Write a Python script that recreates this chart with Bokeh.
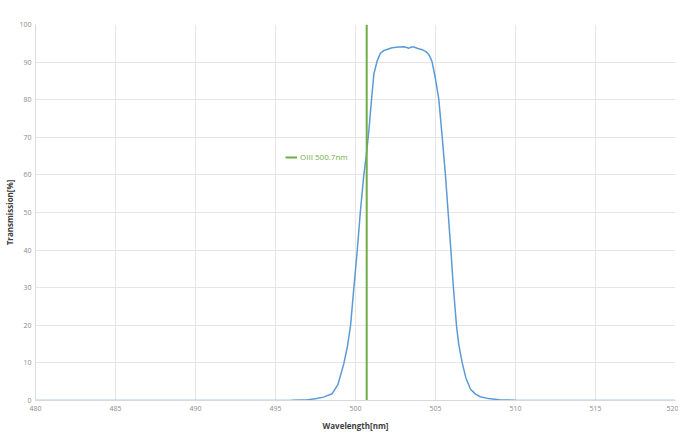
from bokeh.plotting import figure
from bokeh.models import FixedTicker, Range1d, Legend, LegendItem
from bokeh.embed import file_html
from bokeh.resources import INLINE

wavelength = [480, 490, 495, 496, 497, 497.5, 498, 498.54, 498.9, 499.27, 499.5, 499.69, 499.9,
              500.11, 500.3, 500.52, 500.67, 500.84, 501.0, 501.15, 501.36, 501.55, 501.78,
              502.29, 502.7, 503.03, 503.2, 503.34, 503.5, 503.65, 503.9, 504.17, 504.4, 504.58,
              504.7, 504.79, 505.0, 505.21, 505.42, 505.62, 505.79, 505.96, 506.12, 506.31,
              506.45, 506.67, 506.9, 507.19, 507.5, 507.8, 508.3, 509, 510, 512, 520]
transmission = [0, 0, 0.02, 0.06, 0.2, 0.45, 0.9, 1.8, 4.2, 9.8, 14.5, 19.9, 30.1,
                39.9, 50.0, 60.0, 65.0, 72.0, 80.0, 86.9, 90.4, 92.3, 93.1,
                93.8, 94.0, 94.1, 93.9, 93.7, 94.0, 94.0, 93.6, 93.3, 92.8, 92.0,
                91.0, 90.0, 85.5, 80.0, 70.0, 60.0, 50.0, 40.0, 30.0, 20.0,
                15.0, 10.0, 6.0, 3.0, 1.7, 1.0, 0.5, 0.2, 0.08, 0.02, 0]
oiii_x = [500.7, 500.7]
oiii_y = [0, 100]
oiii_label = "OIII 500.7nm"
x_ticks = [480, 485, 490, 495, 500, 505, 510, 515, 520]
y_ticks = [0, 10, 20, 30, 40, 50, 60, 70, 80, 90, 100]

FONT = "Open Sans"
p = figure(width=678, height=433, output_backend="svg", toolbar_location=None,
           x_range=Range1d(480, 520), y_range=Range1d(0, 100),
           min_border_left=35, min_border_right=3, min_border_top=24, min_border_bottom=31)
p.outline_line_color = None
p.background_fill_color = "white"

curve = p.line(wavelength, transmission, line_color="#5b9bd5", line_width=1.5)
oiii = p.line(oiii_x, oiii_y, line_color="#70ad47", line_width=2)

for ax, ticks in ((p.xaxis, x_ticks), (p.yaxis, y_ticks)):
    ax.ticker = FixedTicker(ticks=ticks)
    ax.major_tick_line_color = None
    ax.minor_tick_line_color = None
    ax.major_tick_out = 0
    ax.major_tick_in = 0
    ax.minor_tick_out = 0
    ax.minor_tick_in = 0
    ax.axis_line_color = "#d9d9d9"
    ax.major_label_text_font = FONT
    ax.major_label_text_font_size = "7px"
    ax.major_label_text_color = "#8c8c8c"
    ax.axis_label_text_font = FONT
    ax.axis_label_text_font_size = "8px"
    ax.axis_label_text_font_style = "bold"
    ax.axis_label_text_color = "#404040"

p.xaxis.axis_label = "Wavelength[nm]"
p.yaxis.axis_label = "Transmission[%]"
p.xaxis.major_label_standoff = 5
p.xaxis.axis_label_standoff = 6
p.yaxis.major_label_standoff = 4
p.yaxis.axis_label_standoff = 1

p.xgrid.grid_line_color = "#e6e6e6"
p.ygrid.grid_line_color = "#e6e6e6"

legend = Legend(items=[LegendItem(label=oiii_label, renderers=[oiii])],
                location=(250, 238), border_line_color=None, background_fill_alpha=0,
                padding=0, margin=0, glyph_width=12, glyph_height=10, label_height=10,
                label_standoff=3, label_text_font=FONT, label_text_font_size="8px",
                label_text_color="#70ad47")
p.add_layout(legend)

open("out.html", "w").write(file_html(p, INLINE))
